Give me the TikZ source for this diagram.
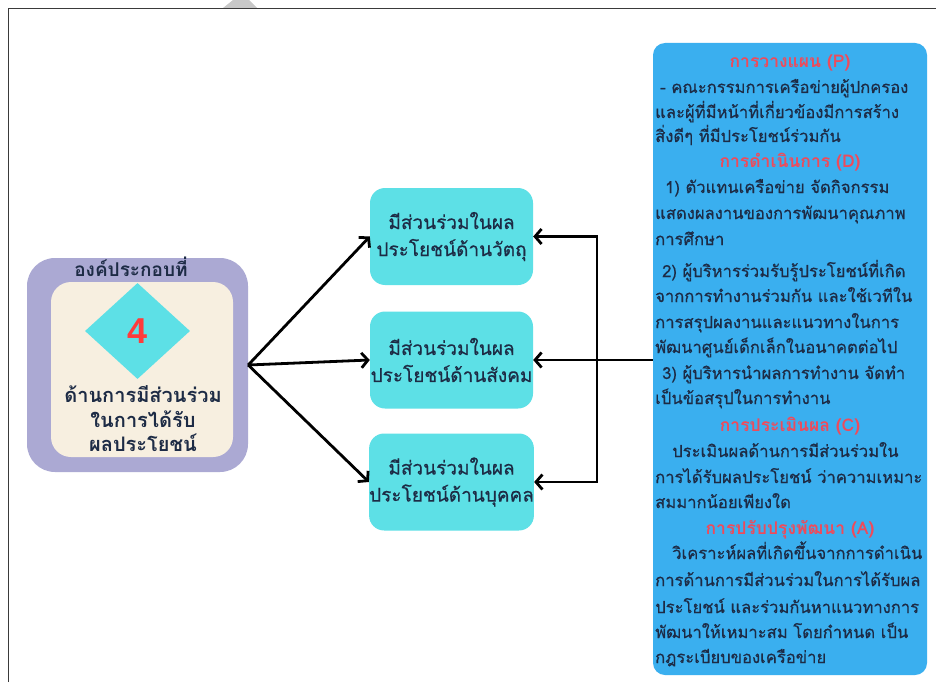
\documentclass[tikz,border=0pt]{standalone}
\usepackage{fontspec}
\newfontfamily\thai[Script=Thai]{Loma}
\newfontfamily\thaimed[Script=Thai,FakeBold=0.6]{Loma}
\newfontfamily\digitfont{Liberation Sans}
\usetikzlibrary{arrows.meta,shapes.geometric}
\definecolor{lav}{HTML}{ABA9D3}
\definecolor{cream}{HTML}{F7EFE0}
\definecolor{cyanb}{HTML}{5DE0E6}
\definecolor{bluebox}{HTML}{3AAFEF}
\definecolor{headred}{HTML}{EE4B5B}
\definecolor{navy}{HTML}{1D2B45}
\definecolor{redfour}{HTML}{FF3B3B}
\definecolor{framec}{HTML}{3A3A3A}
\definecolor{trigrey}{HTML}{C8C8C8}
\tikzset{
  body/.style={anchor=base west, inner sep=0pt, text=navy, font=\thaimed\fontsize{16.6}{20}\selectfont},
  head/.style={anchor=base, inner sep=0pt, text=headred, font=\thai\bfseries\fontsize{17.5}{20}\selectfont},
  lefttxt/.style={anchor=base, inner sep=0pt, text=navy, font=\thai\bfseries\fontsize{20}{22}\selectfont},
  hdrtxt/.style={anchor=base, inner sep=0pt, text=navy, font=\thai\bfseries\fontsize{19}{22}\selectfont},
  midbox/.style={fill=cyanb, rounded corners=15pt, minimum width=163pt, minimum height=97pt, inner sep=0pt, align=center, text=navy, font=\thaimed\fontsize{19}{27}\selectfont},
  arr/.style={draw=black, line width=2.8pt, -{Straight Barb[length=6.5pt,width=15pt]}},
  arrtwo/.style={draw=black, line width=2.8pt, line join=miter, {Straight Barb[length=6.5pt,width=15pt]}-{Straight Barb[length=6.5pt,width=15pt]}}
}
\begin{document}
\begin{tikzpicture}[x=1pt,y=-1pt]
\useasboundingbox (0,0) rectangle (936,682);
\fill[white] (0,0) rectangle (936,682);
% frame and grey tab
\fill[trigrey] (223,8) -- (233,0) -- (249,0) -- (257,8) -- cycle;
\draw[framec, line width=1.6pt] (8.5,682) -- (8.5,8.5) -- (936,8.5);
% left composite box
\node[fill=lav, rounded corners=28pt, minimum width=221pt, minimum height=214pt, inner sep=0pt] (p) at (137.5,365) {};
\node[fill=cream, rounded corners=20pt, minimum width=182pt, minimum height=175pt, inner sep=0pt] (c) at (142,369.5) {};
\node[diamond, fill=cyanb, minimum width=105pt, minimum height=96pt, inner sep=0pt] (d) at (137.5,331) {};
\node[inner sep=0pt, text=redfour, font=\digitfont\bfseries\fontsize{36}{36}\selectfont] (n4) at (137.5,331) {4};
\node[hdrtxt] (h) at (131,276) {องค์ประกอบที่};
\node[lefttxt] (l1) at (143,402) {ด้านการมีส่วนร่วม};
\node[lefttxt] (l2) at (143,427) {ในการได้รับ};
\node[lefttxt] (l3) at (143,451) {ผลประโยชน์};
% middle boxes
\node[midbox] (b1) at (451.5,236.5) {มีส่วนร่วมในผล\\ประโยชน์ด้านวัตถุ};
\node[midbox] (b2) at (451.5,360) {มีส่วนร่วมในผล\\ประโยชน์ด้านสังคม};
\node[midbox] (b3) at (451.5,482) {มีส่วนร่วมในผล\\ประโยชน์ด้านบุคคล};
% right box
\node[fill=bluebox, rounded corners=12pt, minimum width=274pt, minimum height=632pt, inner sep=0pt] (r) at (790,359) {};
\node[head] (t1) at (790,68) {การวางแผน (P)};
\node[body] (t2) at (660,93) {- คณะกรรมการเครือข่ายผู้ปกครอง};
\node[body] (t3) at (655,118) {และผู้ที่มีหน้าที่เกี่ยวข้องมีการสร้าง};
\node[body] (t4) at (655,142) {สิ่งดีๆ ที่มีประโยชน์ร่วมกัน};
\node[head] (t5) at (790,167) {การดำเนินการ (D)};
\node[body] (t6) at (665,193) {1) ตัวแทนเครือข่าย จัดกิจกรรม};
\node[body] (t7) at (655,219) {แสดงผลงานของการพัฒนาคุณภาพ};
\node[body] (t8) at (655,245) {การศึกษา};
\node[body] (t9) at (662,277) {2) ผู้บริหารร่วมรับรู้ประโยชน์ที่เกิด};
\node[body] (t10) at (655,302) {จากการทำงานร่วมกัน และใช้เวทีใน};
\node[body] (t11) at (655,328) {การสรุปผลงานและแนวทางในการ};
\node[body] (t12) at (655,353) {พัฒนาศูนย์เด็กเล็กในอนาคตต่อไป};
\node[body] (t13) at (662,379) {3) ผู้บริหารนำผลการทำงาน จัดทำ};
\node[body] (t14) at (655,404) {เป็นข้อสรุปในการทำงาน};
\node[head] (t15) at (790,431) {การประเมินผล (C)};
\node[body] (t16) at (672,457) {ประเมินผลด้านการมีส่วนร่วมใน};
\node[body] (t17) at (655,483) {การได้รับผลประโยชน์ ว่าความเหมาะ};
\node[body] (t18) at (655,508) {สมมากน้อยเพียงใด};
\node[head] (t19) at (790,534) {การปรับปรุงพัฒนา (A)};
\node[body] (t20) at (672,559) {วิเคราะห์ผลที่เกิดขึ้นจากการดำเนิน};
\node[body] (t21) at (655,586) {การด้านการมีส่วนร่วมในการได้รับผล};
\node[body] (t22) at (655,613) {ประโยชน์ และร่วมกันหาแนวทางการ};
\node[body] (t23) at (655,638) {พัฒนาให้เหมาะสม โดยกำหนด เป็น};
\node[body] (t24) at (655,663) {กฎระเบียบของเครือข่าย};
% connectors
\draw[arr] (p.east) -- (b1.west);
\draw[arr] (p.east) -- (b2.west);
\draw[arr] (p.east) -- (b3.west);
\coordinate (jx) at (597,0);
\draw[arr] (r.west |- b2.east) -- (b2.east);
\draw[arrtwo] (b1.east) -- (b1.east -| jx) -- (b3.east -| jx) -- (b3.east);
\end{tikzpicture}
\end{document}
